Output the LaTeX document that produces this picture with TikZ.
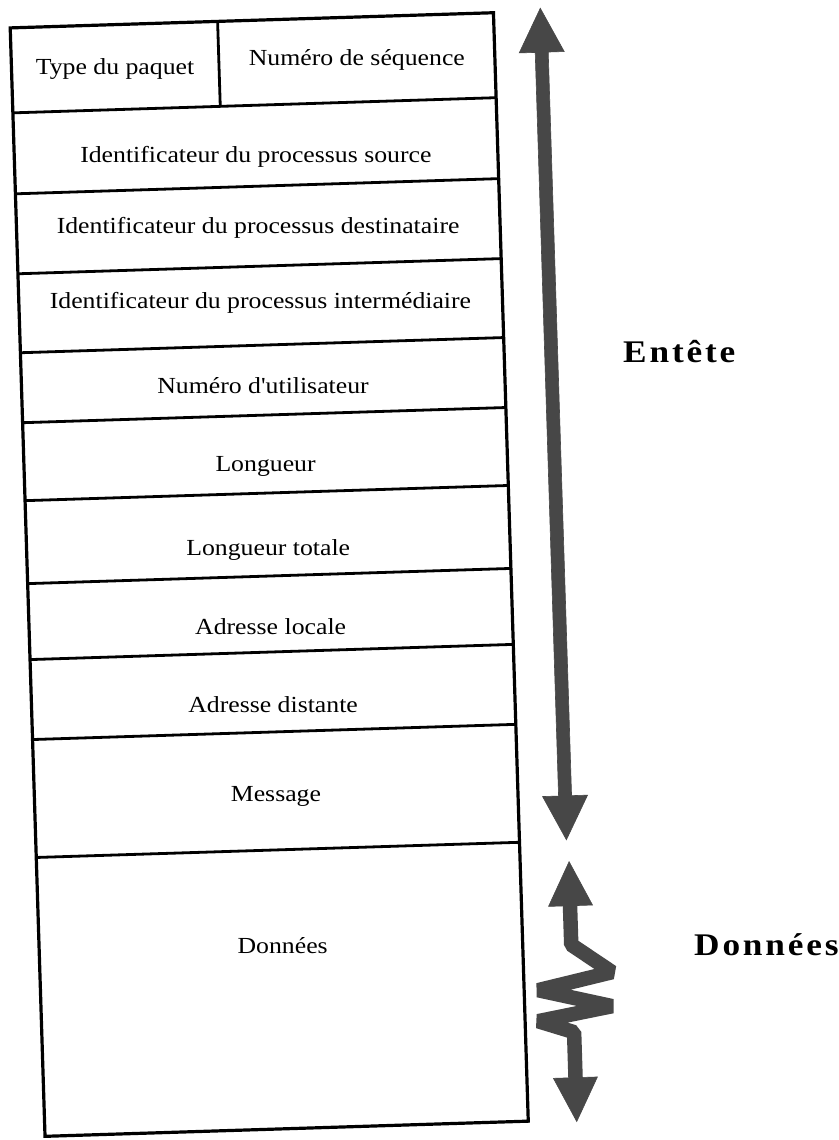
\documentclass[tikz,border=0pt]{standalone}
\usepackage{fontspec}
\setmainfont[FakeStretch=1.12]{Liberation Serif}
\newfontfamily\cellfont[FakeStretch=1.12]{Liberation Serif}
\newfontfamily\lblfont[FakeStretch=1.12,LetterSpace=9]{Liberation Serif}
\begin{document}
\begin{tikzpicture}[x=1pt,y=-1pt,
  frame/.style={line width=3.2pt},
  rowline/.style={line width=2.8pt},
  cell/.style={font=\cellfont\fontsize{23}{27}\selectfont, inner sep=0pt},
  biglabel/.style={font=\lblfont\bfseries\fontsize{31.5}{36}\selectfont, anchor=base west, inner sep=0pt},
  band/.style={fill=black!72, draw=black!72, line width=0.6pt, line join=miter},
  zigband/.style={draw=black!72, line width=14.5pt, line join=bevel}]
\useasboundingbox (0,0) rectangle (838,1140);
\fill[white] (0,0) rectangle (838,1140);
\begin{scope}[rotate around={1.8:(270,575)}]
  % table frame and rows
  \draw[frame] (27.5,20) rectangle (511,1129);
  \foreach \y in {105,186,266,345,415,493,576,652,732,850}
    \draw[rowline] (27.5,\y) -- (511,\y);
  \draw[rowline] (235,20) -- (235,105);
  % cell texts
  \node[cell] (type)  at (131,64)    {Type du paquet};
  \node[cell] (seq)   at (373,63)    {Numéro de séquence};
  \node[cell] (src)   at (269,157)   {Identificateur du processus source};
  \node[cell] (dst)   at (269,228)   {Identificateur du processus destinataire};
  \node[cell] (inter) at (269,303)   {Identificateur du processus intermédiaire};
  \node[cell] (user)  at (269,385)   {Numéro d'utilisateur};
  \node[cell] (len)   at (269,466)   {Longueur};
  \node[cell] (tot)   at (269,550)   {Longueur totale};
  \node[cell] (loc)   at (269,627)   {Adresse locale};
  \node[cell] (dist)  at (269,705)   {Adresse distante};
  \node[cell] (msg)   at (269,797)   {Message};
  \node[cell] (data)  at (271,946)   {Données};
  % header double arrow
  \coordinate (ht) at (558,17);
  \coordinate (hb) at (558,849);
  \fill[band] (ht) -- (580.5,61) -- (564.5,61) -- (564.5,805) -- (580.5,805) -- (hb)
    -- (535.5,805) -- (551.5,805) -- (551.5,61) -- (535.5,61) -- cycle;
  % data zigzag double arrow
  \coordinate (dt) at (560,871);
  \coordinate (db) at (559.5,1131);
  \draw[zigband] (559.5,912) -- (559.5,954) -- (599.5,982.7) -- (525,998.4) -- (598.5,1016.7)
    -- (524,1029.4) -- (559.6,1041.5) -- (559.6,1090);
  \fill[band] (dt) -- (582,915) -- (538,915) -- cycle;
  \fill[band] (db) -- (537.5,1087) -- (581.5,1087) -- cycle;
\end{scope}
\node[biglabel] (entete) at (623,362) {Entête};
\node[biglabel] (donnees) at (694,955) {Données};
\end{tikzpicture}
\end{document}
